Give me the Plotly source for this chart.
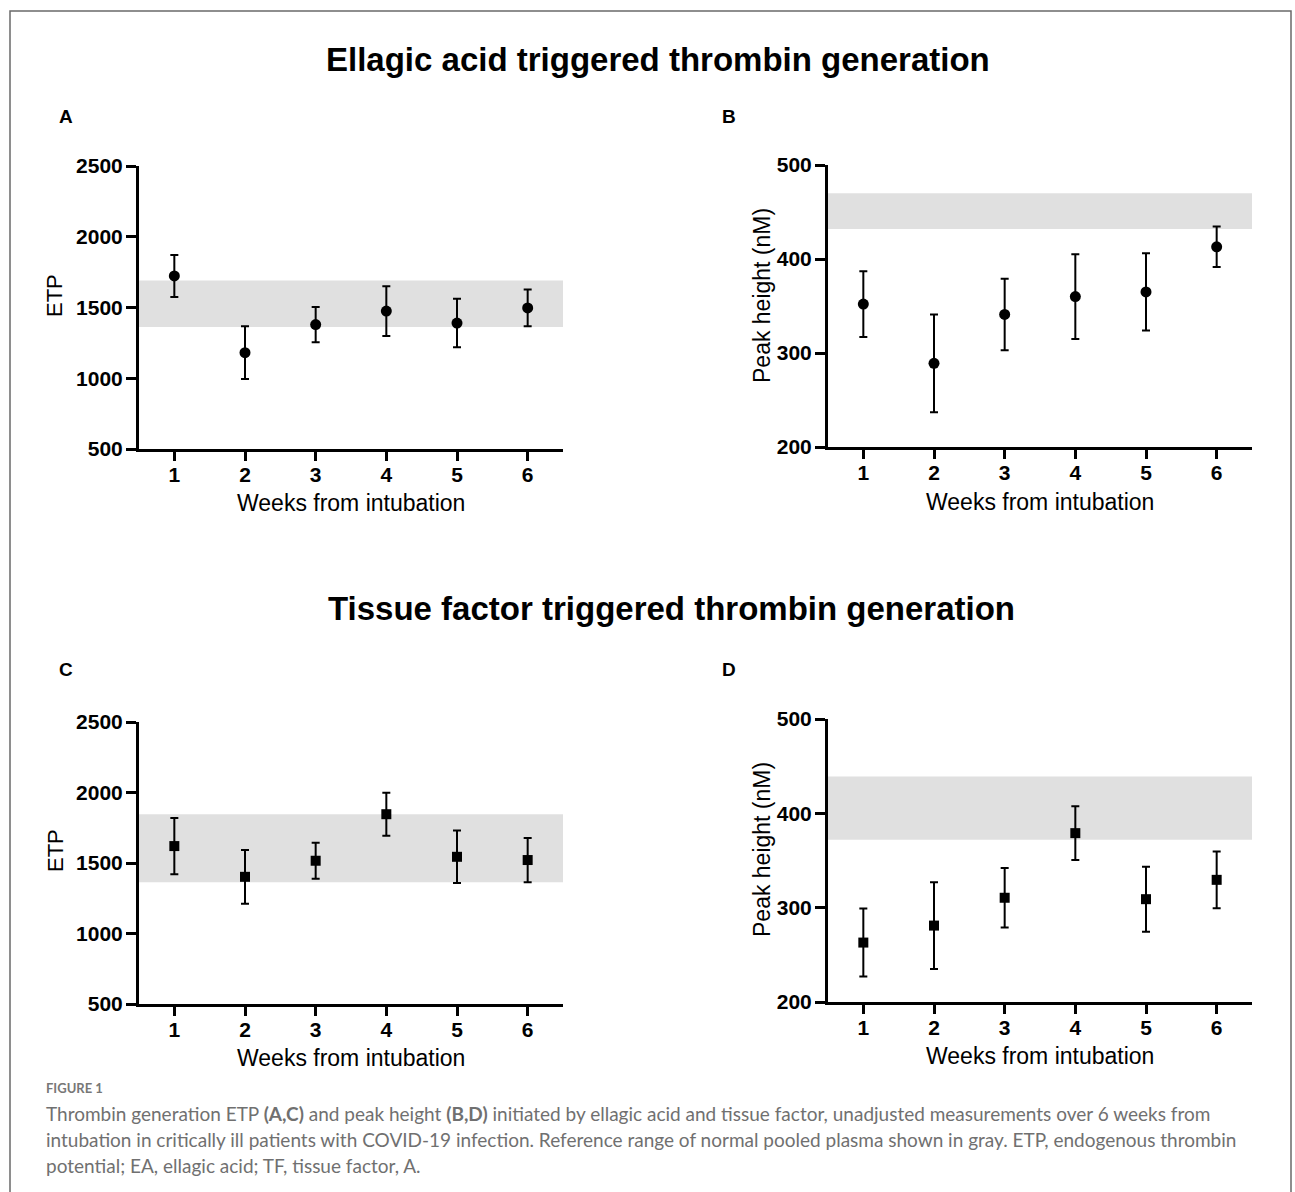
import plotly.graph_objects as go

W, H = 1295, 1192

weeks = [1, 2, 3, 4, 5, 6]
week_ticks = ["1", "2", "3", "4", "5", "6"]

# Panel A: ellagic acid ETP (mean, error)
ea_etp = [1723, 1181, 1379, 1475, 1390, 1497]
ea_etp_err = [148, 187, 125, 176, 171, 130]
ea_etp_band = [1362, 1690]

# Panel B: ellagic acid peak height
ea_peak = [352, 289, 341, 360, 365, 413]
ea_peak_err = [35, 52, 38, 45, 41, 21.5]
ea_peak_band = [432, 470]

# Panel C: tissue factor ETP
tf_etp = [1620, 1402, 1516, 1846, 1544, 1521]
tf_etp_err = [200, 191, 128, 152, 186, 157]
tf_etp_band = [1363, 1846]

# Panel D: tissue factor peak height
tf_peak = [263, 281, 310.5, 379, 309, 329.5]
tf_peak_err = [36, 46, 31.5, 28.5, 34.5, 30]
tf_peak_band = [372, 439]

etp_ticks = [500, 1000, 1500, 2000, 2500]
peak_ticks = [200, 300, 400, 500]

ARIAL = "Arial, Liberation Sans, sans-serif"


def px_x(p):
    return p / W


def px_y(p):
    return 1 - p / H


fig = go.Figure()

panels = [
    ("", ea_etp, ea_etp_err, ea_etp_band, "circle", [500, 2500], etp_ticks, (139, 563), (166, 449)),
    ("2", ea_peak, ea_peak_err, ea_peak_band, "circle", [200, 500], peak_ticks, (828, 1252), (165, 447)),
    ("3", tf_etp, tf_etp_err, tf_etp_band, "square", [500, 2500], etp_ticks, (139, 563), (722, 1004)),
    ("4", tf_peak, tf_peak_err, tf_peak_band, "square", [200, 500], peak_ticks, (828, 1252), (719, 1002)),
]

layout_axes = {}
shapes = []
for suf, yv, ev, band, sym, yr, ticks, xd, yd in panels:
    fig.add_trace(go.Scatter(
        x=weeks, y=yv, mode="markers",
        marker=dict(symbol=sym, size=11 if sym == "circle" else 10, color="black"),
        error_y=dict(type="data", array=ev, visible=True, color="black", thickness=2, width=4),
        xaxis="x" + suf, yaxis="y" + suf, showlegend=False,
    ))
    xa = dict(
        domain=[px_x(xd[0]), px_x(xd[1])], range=[0.5, 6.5],
        tickvals=weeks, ticktext=week_ticks,
        showline=True, linewidth=3, linecolor="black", mirror=False,
        ticks="outside", ticklen=9, tickwidth=3, tickcolor="black",
        ticklabelstandoff=-4,
        showgrid=False, zeroline=False, automargin=False,
        tickfont=dict(family=ARIAL, size=21, color="black", weight="bold"),
        anchor="y" + suf, fixedrange=True,
    )
    ya = dict(
        domain=[px_y(yd[1]), px_y(yd[0])], range=yr,
        tickvals=ticks, ticktext=[str(t) for t in ticks],
        showline=True, linewidth=3, linecolor="black",
        ticks="outside", ticklen=10, tickwidth=3, tickcolor="black",
        ticklabelstandoff=-1,
        showgrid=False, zeroline=False, automargin=False,
        tickfont=dict(family=ARIAL, size=21, color="black", weight="bold"),
        anchor="x" + suf, fixedrange=True,
    )
    layout_axes["xaxis" + suf] = xa
    layout_axes["yaxis" + suf] = ya
    shapes.append(dict(
        type="rect", xref="x" + suf, yref="y" + suf,
        x0=0.5, x1=6.5, y0=band[0], y1=band[1],
        fillcolor="#e0e0e0", line=dict(width=0), layer="below",
    ))

# figure border (open at bottom)
shapes.append(dict(
    type="rect", xref="paper", yref="paper",
    x0=px_x(10), x1=px_x(1291), y0=-0.05, y1=px_y(11),
    line=dict(color="#6a6a6a", width=1.5), fillcolor="rgba(0,0,0,0)",
))

annotations = []


def ann(text, x, y, size, bold=False, color="black", angle=0, family=ARIAL, xanchor="center", align="center"):
    annotations.append(dict(
        text=text, x=px_x(x), y=px_y(y), xref="paper", yref="paper",
        showarrow=False, xanchor=xanchor, yanchor="middle", textangle=angle, align=align,
        font=dict(family=family, size=size, color=color, weight="bold" if bold else "normal"),
    ))


ann("Ellagic acid triggered thrombin generation", 658, 60, 33, bold=True)
ann("Tissue factor triggered thrombin generation", 671, 608, 33, bold=True)

ann("A", 66, 116, 19, bold=True)
ann("B", 729, 116, 19, bold=True)
ann("C", 66, 669, 19, bold=True)
ann("D", 729, 669, 19, bold=True)

ann("ETP", 55, 296, 22, angle=-90)
ann("Peak height (nM)", 762, 296, 23, angle=-90)
ann("ETP", 55, 851, 22, angle=-90)
ann("Peak height (nM)", 762, 850, 23, angle=-90)

ann("Weeks from intubation", 351, 503, 23)
ann("Weeks from intubation", 1040, 502, 23)
ann("Weeks from intubation", 351, 1058, 23)
ann("Weeks from intubation", 1040, 1056, 23)

CAP = "Lato, Open Sans, sans-serif"
ann("<b>FIGURE 1</b>", 44, 1088, 13, color="#777777", family=CAP, xanchor="left")
caption_lines = [
    "Thrombin generation ETP <b>(A,C)</b> and peak height <b>(B,D)</b> initiated by ellagic acid and tissue factor, unadjusted measurements over 6 weeks from",
    "intubation in critically ill patients with COVID-19 infection. Reference range of normal pooled plasma shown in gray. ETP, endogenous thrombin",
    "potential; EA, ellagic acid; TF, tissue factor, A.",
]
for i, line in enumerate(caption_lines):
    ann(line, 44, 1113 + i * 26, 19, color="#707070", family=CAP, xanchor="left", align="left")

fig.update_layout(
    width=W, height=H,
    margin=dict(l=0, r=0, t=0, b=0, pad=0, autoexpand=False),
    paper_bgcolor="white", plot_bgcolor="white",
    shapes=shapes, annotations=annotations,
    **layout_axes,
)

fig.write_html("out.html")
